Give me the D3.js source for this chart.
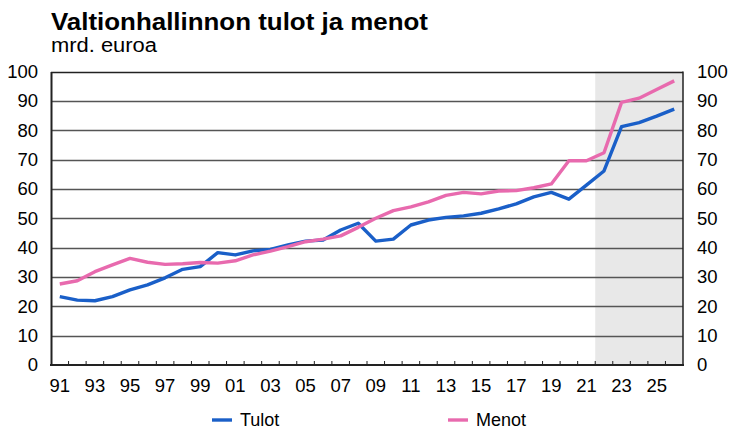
<!DOCTYPE html>
<html>
<head>
<meta charset="utf-8">
<script src="https://cdn.jsdelivr.net/npm/d3@7"></script>
<style>
  html, body { margin: 0; padding: 0; background: #fff; }
  svg { display: block; font-family: "Liberation Sans", Arial, sans-serif; }
</style>
</head>
<body>
<svg id="chart" width="732" height="430"></svg>
<script>
// Government revenue and expenditure, billion euro, 1991–2026
const years = d3.range(1991, 2027);
const tulot = [23.3, 22.1, 21.9, 23.3, 25.6, 27.3, 29.7, 32.6, 33.5, 38.3,
               37.5, 38.9, 39.4, 40.9, 42.2, 42.6, 46.0, 48.3, 42.2, 42.9,
               47.7, 49.4, 50.3, 50.8, 51.7, 53.2, 54.9, 57.3, 58.8, 56.5,
               61.3, 66.1, 81.2, 82.6, 84.8, 87.2];
const menot = [27.6, 28.7, 31.8, 34.1, 36.3, 35.0, 34.3, 34.5, 34.9, 34.7,
               35.5, 37.5, 38.8, 40.3, 42.0, 42.9, 44.0, 46.9, 50.0, 52.6,
               53.9, 55.6, 57.8, 58.8, 58.3, 59.3, 59.4, 60.4, 61.7, 69.6,
               69.6, 72.3, 89.5, 90.9, 93.9, 96.8];
const yTicks = [0, 10, 20, 30, 40, 50, 60, 70, 80, 90, 100];
const forecastStart = 2022;
const seriesNames = ["Tulot", "Menot"];
const seriesColors = ["#1a5fc8", "#e86aae"];

const svg = d3.select("#chart");
const margin = { left: 51, right: 49, top: 71.5, bottom: 65 };
const W = 732, H = 430;
const tickFont = 18.5;

const x = d3.scaleBand()
  .domain(years)
  .range([margin.left, W - margin.right])
  .paddingInner(0).paddingOuter(0);
const y = d3.scaleLinear()
  .domain([0, 100])
  .range([H - margin.bottom, margin.top]);

// Title and unit
svg.append("text")
  .attr("x", 51).attr("y", 30)
  .attr("font-size", 23.5).attr("font-weight", "bold")
  .attr("fill", "#000")
  .attr("textLength", 377).attr("lengthAdjust", "spacingAndGlyphs")
  .text("Valtionhallinnon tulot ja menot");
svg.append("text")
  .attr("x", 51).attr("y", 52)
  .attr("font-size", 20)
  .attr("fill", "#000")
  .attr("textLength", 106).attr("lengthAdjust", "spacingAndGlyphs")
  .text("mrd. euroa");

// Forecast shading
svg.append("rect")
  .attr("x", x(forecastStart))
  .attr("y", y(100))
  .attr("width", x.range()[1] - x(forecastStart))
  .attr("height", y(0) - y(100))
  .attr("fill", "#e8e8e8");

// Gridlines
svg.append("g")
  .selectAll("line")
  .data(yTicks.filter(d => d > 0 && d < 100))
  .join("line")
  .attr("x1", x.range()[0]).attr("x2", x.range()[1])
  .attr("y1", d => Math.round(y(d)) + 0.5)
  .attr("y2", d => Math.round(y(d)) + 0.5)
  .attr("stroke", "#555")
  .attr("stroke-width", 1.3);

// Frame: top and right
svg.append("line")
  .attr("x1", x.range()[0]).attr("x2", x.range()[1])
  .attr("y1", Math.round(y(100)) + 0.5).attr("y2", Math.round(y(100)) + 0.5)
  .attr("stroke", "#222").attr("stroke-width", 1.5);
svg.append("line")
  .attr("x1", x.range()[1]).attr("x2", x.range()[1])
  .attr("y1", y(100)).attr("y2", y(0))
  .attr("stroke", "#222").attr("stroke-width", 1.5);

// Left y axis
const yLeft = d3.axisLeft(y).tickValues(yTicks).tickSize(0).tickPadding(13);
const gl = svg.append("g")
  .attr("transform", `translate(${x.range()[0]},0)`)
  .call(yLeft);
gl.select(".domain").attr("stroke", "#222").attr("stroke-width", 2);
gl.selectAll("text").attr("font-size", tickFont).attr("fill", "#000")
  .attr("font-family", "Liberation Sans, Arial, sans-serif");

// Right y axis
const yRight = d3.axisRight(y).tickValues(yTicks).tickSize(0).tickPadding(14);
const gr = svg.append("g")
  .attr("transform", `translate(${x.range()[1]},0)`)
  .call(yRight);
gr.select(".domain").remove();
gr.selectAll("text").attr("font-size", tickFont).attr("fill", "#000")
  .attr("font-family", "Liberation Sans, Arial, sans-serif");

// X axis: tick marks on band boundaries, labels on every other year
const xg = svg.append("g").attr("transform", `translate(0,${y(0)})`);
xg.selectAll("line.tick")
  .data(years.slice(1))
  .join("line")
  .attr("class", "tick")
  .attr("x1", d => x(d)).attr("x2", d => x(d))
  .attr("y1", 0).attr("y2", -4)
  .attr("stroke", "#222").attr("stroke-width", 1);
xg.append("line")
  .attr("x1", x.range()[0] - 1).attr("x2", x.range()[1] + 1)
  .attr("y1", 0).attr("y2", 0)
  .attr("stroke", "#222").attr("stroke-width", 2);
xg.selectAll("text")
  .data(years.filter(d => (d - 1991) % 2 === 0))
  .join("text")
  .attr("x", d => x(d) + x.bandwidth() / 2)
  .attr("y", 27)
  .attr("text-anchor", "middle")
  .attr("font-size", tickFont)
  .attr("fill", "#000")
  .text(d => String(d % 100).padStart(2, "0"));

// Lines
const line = d3.line()
  .x((d, i) => x(years[i]) + x.bandwidth() / 2)
  .y(d => y(d));
[tulot, menot].forEach((s, i) => {
  svg.append("path")
    .datum(s)
    .attr("fill", "none")
    .attr("stroke", seriesColors[i])
    .attr("stroke-width", 3.4)
    .attr("stroke-linejoin", "round")
    .attr("d", line);
});

// Legend
const legendX = [212, 448];
seriesNames.forEach((name, i) => {
  const g = svg.append("g").attr("transform", `translate(${legendX[i]},420)`);
  g.append("line")
    .attr("x1", 0).attr("x2", 20).attr("y1", 0).attr("y2", 0)
    .attr("stroke", seriesColors[i]).attr("stroke-width", 3.4);
  g.append("text")
    .attr("x", 28).attr("y", 6)
    .attr("font-size", 18).attr("fill", "#000")
    .text(name);
});
</script>
</body>
</html>
